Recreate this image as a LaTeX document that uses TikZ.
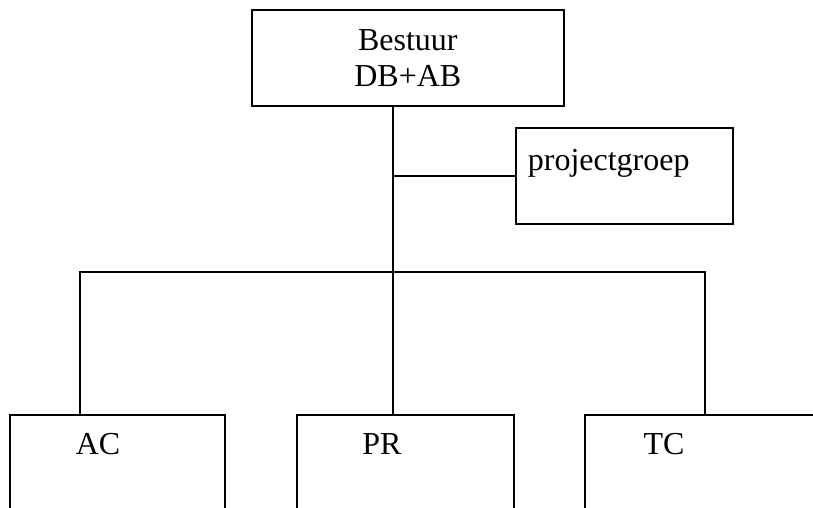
\documentclass[tikz,border=0pt]{standalone}
\usepackage{fontspec}
\setmainfont{Liberation Serif}
\begin{document}
\begin{tikzpicture}[x=1pt,y=-1pt,line width=1.7pt,
  box/.style={draw, rectangle, anchor=north west, inner sep=0pt},
  big/.style={font=\fontsize{32}{36}\selectfont},
  lbl/.style={big, anchor=base, inner sep=0pt},
  wire/.style={draw, line width=1.7pt}]
\useasboundingbox (0,0) rectangle (813,508);
\clip (0,0) rectangle (813,508);
\node[box, big, align=center, minimum width=312pt, minimum height=96pt] (bestuur) at (251,9) {Bestuur\\DB+AB};
\node[box, minimum width=217pt, minimum height=96pt] (proj) at (515,127) {};
\node[lbl, anchor=base west] (projtext) at (527,170) {projectgroep};
\node[box, minimum width=215pt, minimum height=150pt] (ac) at (9,414) {};
\node[box, minimum width=217pt, minimum height=150pt] (pr) at (296,414) {};
\node[box, minimum width=260pt, minimum height=150pt] (tc) at (584,414) {};
\node[lbl] (actext) at (98,454) {AC};
\node[lbl] (prtext) at (382,454) {PR};
\node[lbl] (tctext) at (664,454) {TC};
\coordinate (trunk) at (393,272);
\coordinate (busL) at (80,272);
\coordinate (busR) at (705,272);
\draw[wire] (bestuur.south -| trunk) -- (pr.north -| trunk);
\draw[wire] (trunk |- proj.west) -- (proj.west);
\draw[wire] (ac.north -| busL) -- (busL) -- (busR) -- (tc.north -| busR);
\end{tikzpicture}
\end{document}
